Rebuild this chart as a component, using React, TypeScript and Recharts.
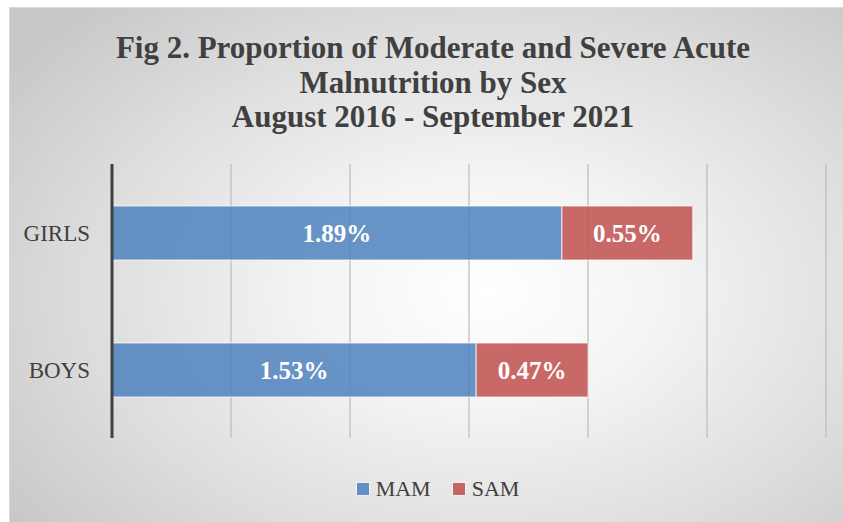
import React from "react";
import { BarChart, Bar, XAxis, YAxis, CartesianGrid, LabelList } from "recharts";

const groups = ["GIRLS", "BOYS"];
const mamValues = [1.89, 1.53];
const samValues = [0.55, 0.47];
const xTicks = [0, 0.5, 1, 1.5, 2, 2.5, 3];

const titleLines = [
  "Fig 2. Proportion of Moderate and Severe Acute",
  "Malnutrition by Sex",
  "August 2016 - September 2021",
];

const data = groups.map((g, i) => ({ group: g, MAM: mamValues[i], SAM: samValues[i] }));

const serif = "'Liberation Serif', 'DejaVu Serif', serif";

function pct(v: unknown) {
  return `${Number(v).toFixed(2)}%`;
}

function LegendBox() {
  const items = [
    { name: "MAM", color: "#4f81bd" },
    { name: "SAM", color: "#c0504d" },
  ];
  return (
    <div
      style={{
        position: "absolute",
        top: 468,
        left: 5,
        width: 846,
        display: "flex",
        justifyContent: "center",
        gap: 22,
        fontFamily: serif,
        fontSize: 22,
        color: "#404040",
      }}
    >
      {items.map((it) => (
        <div key={it.name} style={{ display: "flex", alignItems: "center", gap: 7 }}>
          <span
            style={{
              width: 12,
              height: 12,
              background: it.color,
              opacity: 0.85,
              outline: "1px solid rgba(255,255,255,0.5)",
              display: "inline-block",
            }}
          />
          <span>{it.name}</span>
        </div>
      ))}
    </div>
  );
}

export default function App() {
  return (
    <div
      style={{
        position: "absolute",
        left: 9,
        top: 7,
        width: 834,
        height: 515,
        background:
          "radial-gradient(ellipse 70% 75% at 57% 55%, #ffffff 0%, #f4f4f4 30%, #dcdcdc 70%, #c8c8c8 100%)",
        borderTop: "1px solid #d9d9d9",
        borderLeft: "1px solid #d9d9d9",
        overflow: "hidden",
      }}
    >
      <div
        style={{
          position: "absolute",
          left: 0,
          width: 846,
          top: 23,
          textAlign: "center",
          fontFamily: serif,
          fontWeight: "bold",
          fontSize: 31,
          lineHeight: "34.5px",
          color: "#404040",
        }}
      >
        {titleLines.map((t) => (
          <div key={t}>{t}</div>
        ))}
      </div>
      <BarChart
        width={834}
        height={515}
        data={data}
        layout="vertical"
        barSize={54}
        margin={{ top: 156, right: 18, bottom: 85, left: 0 }}
      >
        <CartesianGrid horizontal={false} stroke="#bfbfbf" strokeWidth={1.3} />
        <XAxis type="number" domain={[0, 3]} ticks={xTicks} hide />
        <YAxis
          type="category"
          dataKey="group"
          width={102}
          axisLine={{ stroke: "#404040", strokeWidth: 3 }}
          tickLine={false}
          tickMargin={16}
          tick={{ fontSize: 23, fill: "#404040", fontFamily: serif }}
        />
        <Bar
          dataKey="MAM"
          stackId="a"
          fill="#4f81bd"
          fillOpacity={0.85}
          stroke="#ffffff"
          strokeOpacity={0.5}
          strokeWidth={1.5}
          isAnimationActive={false}
        >
          <LabelList
            dataKey="MAM"
            position="center"
            formatter={pct}
            style={{ fill: "#ffffff", fontSize: 25, fontWeight: "bold", fontFamily: serif }}
          />
        </Bar>
        <Bar
          dataKey="SAM"
          stackId="a"
          fill="#c0504d"
          fillOpacity={0.85}
          stroke="#ffffff"
          strokeOpacity={0.5}
          strokeWidth={1.5}
          isAnimationActive={false}
        >
          <LabelList
            dataKey="SAM"
            position="center"
            formatter={pct}
            style={{ fill: "#ffffff", fontSize: 25, fontWeight: "bold", fontFamily: serif }}
          />
        </Bar>
      </BarChart>
      <LegendBox />
    </div>
  );
}
